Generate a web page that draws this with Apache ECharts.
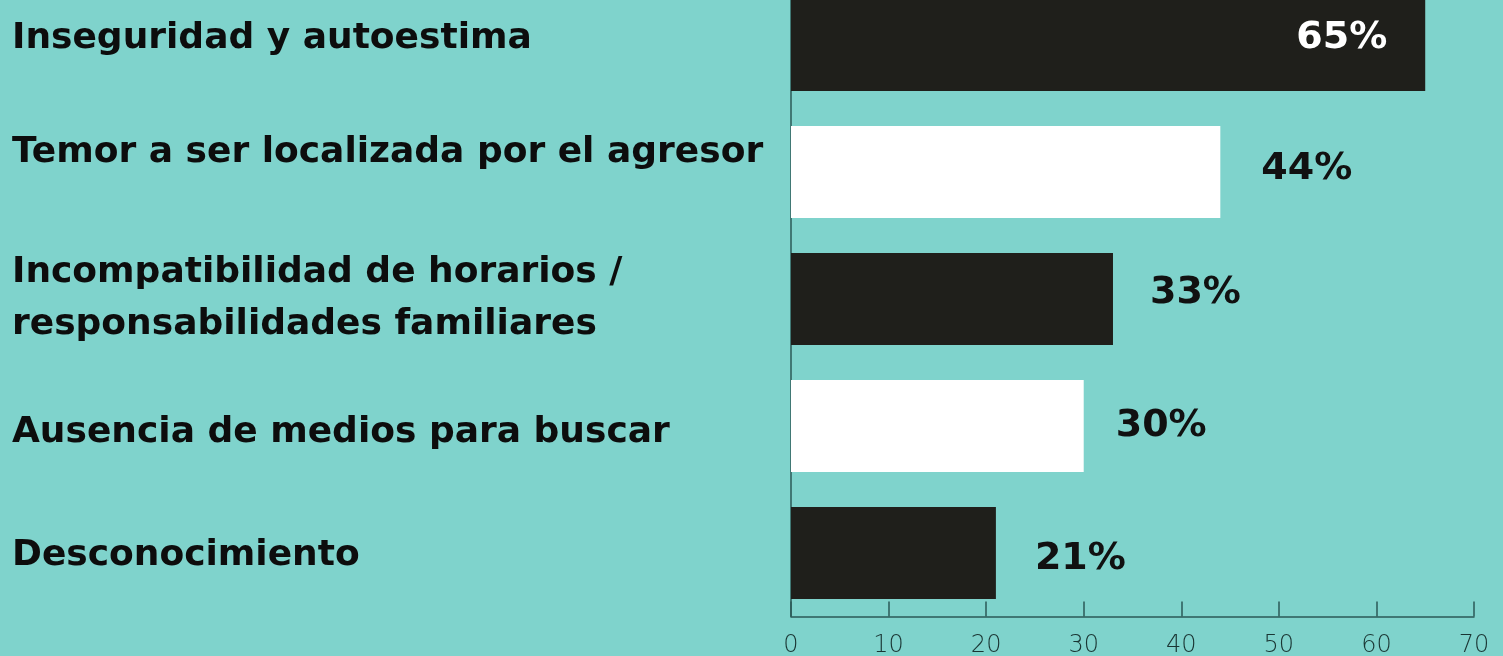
<!DOCTYPE html>
<html>
<head>
<meta charset="utf-8">
<script src="https://cdn.jsdelivr.net/npm/echarts@6/dist/echarts.min.js"></script>
<style>
html,body{margin:0;padding:0;background:#7fd3cc;}
#c{width:1503px;height:656px;}
</style>
</head>
<body>
<div id="c"></div>
<script>
const categories = [
  'Inseguridad y autoestima',
  'Temor a ser localizada por el agresor',
  'Incompatibilidad de horarios /\nresponsabilidades familiares',
  'Ausencia de medios para buscar',
  'Desconocimiento'
];
const values = [65, 44, 33, 30, 21];
const barColors = ['#1f1f1b', '#ffffff', '#1f1f1b', '#ffffff', '#1f1f1b'];
const labelColors = ['#ffffff', '#111111', '#111111', '#111111', '#111111'];
const labelInside = [true, false, false, false, false];
const labelDistance = [38, 41, 37, 32, 39];
const labelDy = [-7, -3, -6, 0, 6];
const catDy = [-6, -19, 0, 7, 3];

const chart = echarts.init(document.getElementById('c'), null, {renderer: 'canvas'});
const axisColor = '#2b5a57';
const catFont = {color: '#0d0d0d', fontSize: 36, fontWeight: 'bold', fontFamily: 'DejaVu Sans', lineHeight: 52};
const rich = {};
catDy.forEach((d, i) => {
  rich['s' + i] = Object.assign({}, catFont, {padding: d < 0 ? [0, 0, -2 * d, 0] : [2 * d, 0, 0, 0]});
});
chart.setOption({
  backgroundColor: '#7fd3cc',
  animation: false,
  grid: {left: 791, right: 29, top: -18.5, bottom: 39.5, containLabel: false, outerBoundsMode: 'none'},
  xAxis: {
    type: 'value', min: 0, max: 70, interval: 10,
    axisLine: {show: true, lineStyle: {color: axisColor, width: 1.5}},
    axisTick: {show: true, inside: true, length: 15, lineStyle: {color: axisColor, width: 1.5}},
    splitLine: {show: false},
    axisLabel: {color: '#1a3533', fontSize: 24, fontFamily: 'DejaVu Sans', fontWeight: 200, margin: 17}
  },
  yAxis: {
    type: 'category', inverse: true,
    data: categories,
    axisLine: {show: true, lineStyle: {color: axisColor, width: 1.5}},
    axisTick: {show: false},
    axisLabel: Object.assign({
      margin: 779, align: 'left', rich: rich,
      formatter: (v, i) => v.split('\n').map(l => '{s' + i + '|' + l + '}').join('\n')
    }, catFont)
  },
  series: [{
    type: 'bar',
    barWidth: 92,
    data: values.map((v, i) => ({
      value: v,
      itemStyle: {color: barColors[i]},
      label: {
        show: true,
        position: labelInside[i] ? 'insideRight' : 'right',
        distance: labelDistance[i],
        offset: [0, labelDy[i]],
        color: labelColors[i],
        formatter: '{c}%',
        fontSize: 38, fontWeight: 'bold', fontFamily: 'DejaVu Sans'
      }
    }))
  }]
});
</script>
</body>
</html>
